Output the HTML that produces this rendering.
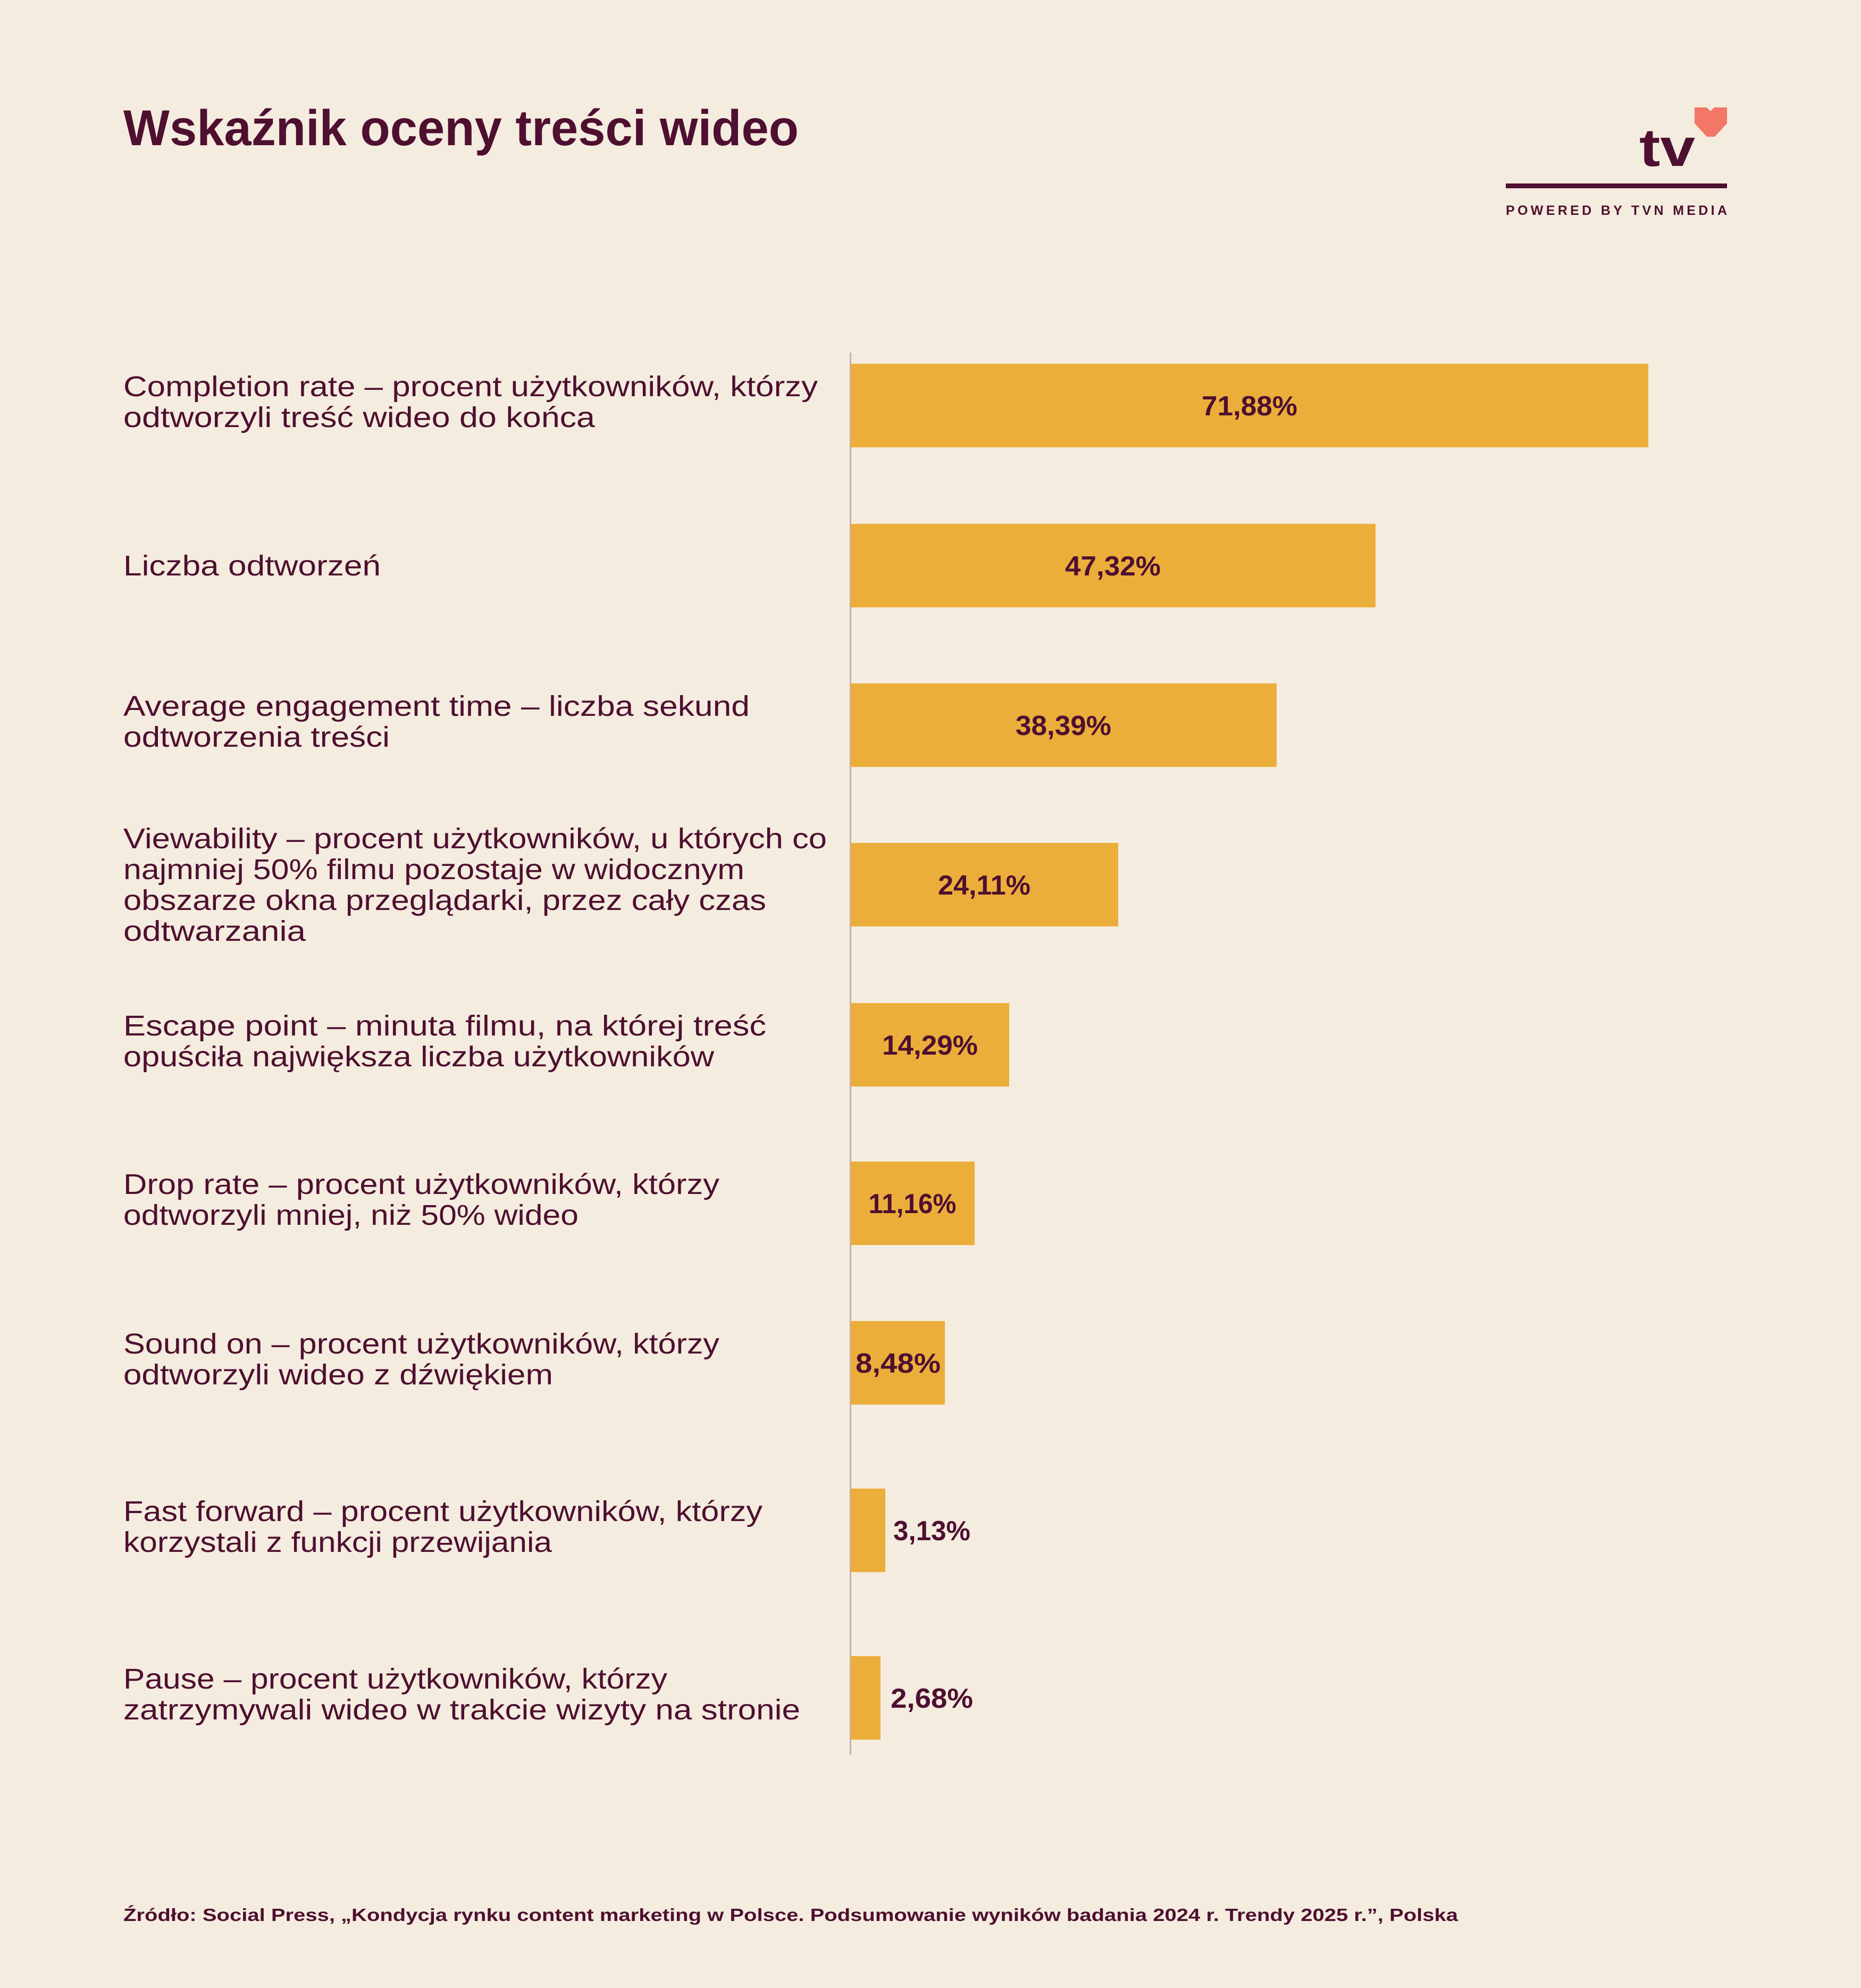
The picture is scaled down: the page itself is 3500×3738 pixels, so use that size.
<!DOCTYPE html>
<html><head><meta charset="utf-8"><style>
html,body{margin:0;padding:0;background:#f4ecdf}
svg{display:block}
text{font-family:"Liberation Sans",sans-serif;fill:#4e0f30}
.l{font-size:54px}
.v{font-size:52px;font-weight:bold;text-anchor:middle}
.vo{font-size:52px;font-weight:bold}
</style></head><body>
<svg width="3500" height="3738" viewBox="0 0 3500 3738" xmlns="http://www.w3.org/2000/svg">
<rect width="3500" height="3738" fill="#f4ecdf"/>
<text x="232" y="273" font-size="95" font-weight="bold" textLength="1270" lengthAdjust="spacingAndGlyphs">Wskaźnik oceny treści wideo</text>
<text x="3083" y="312" font-size="100" font-weight="bold" textLength="105" lengthAdjust="spacingAndGlyphs">tv</text>
<polygon points="3187,202 3210,202 3217,209 3224,202 3248,202 3248,232 3225,257 3210,257 3187,232" fill="#f27767"/>
<rect x="2832" y="345" width="416" height="9" fill="#4e0f30"/>
<text x="2832" y="404" font-size="25" font-weight="bold" textLength="416" lengthAdjust="spacing">POWERED BY TVN MEDIA</text>
<rect x="1598" y="663" width="3" height="2637" fill="#c9aeaa"/>
<g fill="#ecae3a">
<rect x="1600" y="684" width="1500" height="157"/>
<rect x="1600" y="985" width="987" height="157"/>
<rect x="1600" y="1285" width="801" height="157"/>
<rect x="1600" y="1585" width="503" height="157"/>
<rect x="1600" y="1886" width="298" height="157"/>
<rect x="1600" y="2184" width="233" height="157"/>
<rect x="1600" y="2484" width="177" height="157"/>
<rect x="1600" y="2799" width="65" height="157"/>
<rect x="1600" y="3114" width="56" height="157"/>
</g>
<text class="v" x="2350" y="781" textLength="180" lengthAdjust="spacingAndGlyphs">71,88%</text>
<text class="v" x="2093" y="1082" textLength="180" lengthAdjust="spacingAndGlyphs">47,32%</text>
<text class="v" x="2000" y="1382" textLength="180" lengthAdjust="spacingAndGlyphs">38,39%</text>
<text class="v" x="1851" y="1682" textLength="174" lengthAdjust="spacingAndGlyphs">24,11%</text>
<text class="v" x="1749" y="1983" textLength="180" lengthAdjust="spacingAndGlyphs">14,29%</text>
<text class="v" x="1716" y="2281" textLength="165" lengthAdjust="spacingAndGlyphs">11,16%</text>
<text class="v" x="1689" y="2581" textLength="160" lengthAdjust="spacingAndGlyphs">8,48%</text>
<text class="vo" x="1680" y="2896" textLength="145" lengthAdjust="spacingAndGlyphs">3,13%</text>
<text class="vo" x="1675" y="3211" textLength="155" lengthAdjust="spacingAndGlyphs">2,68%</text>
<g class="l">
<text class="l" x="232" y="745" textLength="1306" lengthAdjust="spacingAndGlyphs">Completion rate – procent użytkowników, którzy</text>
<text class="l" x="232" y="803" textLength="887" lengthAdjust="spacingAndGlyphs">odtworzyli treść wideo do końca</text>
<text class="l" x="232" y="1082" textLength="484" lengthAdjust="spacingAndGlyphs">Liczba odtworzeń</text>
<text class="l" x="232" y="1346" textLength="1178" lengthAdjust="spacingAndGlyphs">Average engagement time – liczba sekund</text>
<text class="l" x="232" y="1404" textLength="501" lengthAdjust="spacingAndGlyphs">odtworzenia treści</text>
<text class="l" x="232" y="1595" textLength="1323" lengthAdjust="spacingAndGlyphs">Viewability – procent użytkowników, u których co</text>
<text class="l" x="232" y="1653" textLength="1168" lengthAdjust="spacingAndGlyphs">najmniej 50% filmu pozostaje w widocznym</text>
<text class="l" x="232" y="1711" textLength="1209" lengthAdjust="spacingAndGlyphs">obszarze okna przeglądarki, przez cały czas</text>
<text class="l" x="232" y="1769" textLength="343" lengthAdjust="spacingAndGlyphs">odtwarzania</text>
<text class="l" x="232" y="1947" textLength="1209" lengthAdjust="spacingAndGlyphs">Escape point – minuta filmu, na której treść</text>
<text class="l" x="232" y="2005" textLength="1111" lengthAdjust="spacingAndGlyphs">opuściła największa liczba użytkowników</text>
<text class="l" x="232" y="2245" textLength="1121" lengthAdjust="spacingAndGlyphs">Drop rate – procent użytkowników, którzy</text>
<text class="l" x="232" y="2303" textLength="856" lengthAdjust="spacingAndGlyphs">odtworzyli mniej, niż 50% wideo</text>
<text class="l" x="232" y="2545" textLength="1121" lengthAdjust="spacingAndGlyphs">Sound on – procent użytkowników, którzy</text>
<text class="l" x="232" y="2603" textLength="808" lengthAdjust="spacingAndGlyphs">odtworzyli wideo z dźwiękiem</text>
<text class="l" x="232" y="2860" textLength="1202" lengthAdjust="spacingAndGlyphs">Fast forward – procent użytkowników, którzy</text>
<text class="l" x="232" y="2918" textLength="806" lengthAdjust="spacingAndGlyphs">korzystali z funkcji przewijania</text>
<text class="l" x="232" y="3175" textLength="1023" lengthAdjust="spacingAndGlyphs">Pause – procent użytkowników, którzy</text>
<text class="l" x="232" y="3233" textLength="1273" lengthAdjust="spacingAndGlyphs">zatrzymywali wideo w trakcie wizyty na stronie</text>
</g>
<text x="232" y="3612" font-size="33" font-weight="bold" textLength="2510" lengthAdjust="spacingAndGlyphs">Źródło: Social Press, „Kondycja rynku content marketing w Polsce. Podsumowanie wyników badania 2024 r. Trendy 2025 r.”, Polska</text>
</svg>
</body></html>
